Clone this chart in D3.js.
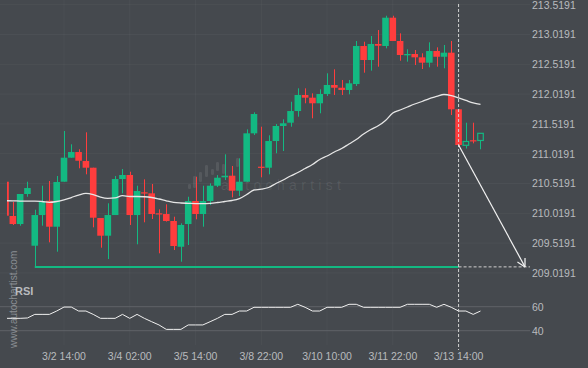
<!DOCTYPE html>
<html>
<head>
<meta charset="utf-8">
<script src="https://cdn.jsdelivr.net/npm/d3@7/dist/d3.min.js"></script>
<style>
html, body { margin: 0; padding: 0; background: #45494e; }
svg { display: block; font-family: "Liberation Sans", Arial, sans-serif; }
</style>
</head>
<body>
<div id="chart"></div>
<script>
// 4h candles
var opens  = [210.549,209.974,209.839,210.343,209.475,209.990,210.230,209.794,210.549,210.952,211.047,210.896,210.784,209.940,209.643,209.990,210.594,210.662,209.990,210.371,210.354,210.019,210.007,209.890,209.458,209.839,210.225,210.007,210.225,210.482,210.623,210.650,210.398,210.549,211.361,210.801,210.784,211.232,211.484,211.539,211.735,212.004,211.959,211.865,212.021,212.172,212.126,212.088,212.188,212.826,212.591,212.860,212.826,213.301,212.910,212.670,212.692,212.636,212.546,212.742,212.646,212.714,211.764,211.160,211.245,211.241];
var highs  = [210.560,210.209,210.343,210.549,210.079,210.482,210.561,210.645,211.400,211.177,211.093,211.378,210.784,209.940,210.187,210.645,210.762,210.717,210.482,210.589,210.511,210.086,210.170,209.962,209.851,210.297,210.633,210.482,210.522,210.660,211.009,210.813,210.942,211.428,211.714,211.472,211.328,211.517,211.596,211.891,212.116,212.116,212.032,212.100,212.368,212.435,212.256,212.256,212.910,212.898,212.994,213.094,213.334,213.334,213.039,212.771,212.759,212.704,212.888,212.804,212.843,212.910,211.764,211.539,211.539,211.361];
var lows   = [209.970,209.823,209.811,210.297,209.135,209.811,209.532,209.375,210.549,210.952,210.774,210.673,209.784,209.442,209.252,209.990,210.354,209.823,209.499,209.868,209.923,209.348,209.880,209.403,209.207,209.487,209.918,209.794,210.158,210.460,210.578,210.287,210.309,210.549,211.333,210.623,210.673,211.026,211.064,211.472,211.640,211.865,211.613,211.697,211.987,212.004,212.004,212.016,212.155,212.378,212.412,212.479,212.787,212.910,212.579,212.563,212.507,212.440,212.469,212.479,212.452,211.668,211.150,211.106,211.193,211.093];
var closes = [209.979,209.839,210.343,210.443,209.990,210.225,209.794,210.544,210.952,211.047,210.901,210.784,209.945,209.643,209.990,210.594,210.662,209.990,210.393,210.354,210.007,210.012,209.890,209.470,209.823,210.225,210.007,210.225,210.482,210.616,210.650,210.398,210.549,211.361,211.685,210.790,211.232,211.484,211.529,211.735,212.004,211.959,211.865,212.021,212.172,212.126,212.088,212.200,212.826,212.591,212.860,212.831,213.301,212.910,212.675,212.692,212.636,212.546,212.742,212.646,212.714,211.764,211.165,211.224,211.239,211.361];
var hollow = [63, 65];

// moving average (white line)
var maValues = [210.230,210.229,210.225,210.225,210.225,210.217,210.203,210.217,210.245,210.284,210.326,210.354,210.334,210.292,210.271,210.279,210.314,210.301,210.301,210.297,210.284,210.259,210.229,210.203,210.192,210.187,210.183,210.183,210.187,210.200,210.217,210.234,210.267,210.334,210.410,210.423,210.452,210.519,210.578,210.645,210.703,210.771,210.838,210.922,210.980,211.047,211.106,211.182,211.257,211.349,211.425,211.487,211.576,211.702,211.752,211.803,211.853,211.895,211.945,211.979,212.012,211.995,211.954,211.912,211.870,211.848];

// RSI
var rsiValues = [50.3,50.3,50.3,50.6,53.6,53.6,53.6,56.4,59.7,59.7,56.4,56.4,53.6,50.3,50.3,50.3,53.6,50.3,53.6,50.3,47.5,44.8,41.1,41.1,41.1,44.8,44.8,44.8,47.5,50.3,53.6,53.6,56.4,56.4,59.5,59.5,59.5,59.5,59.5,59.5,62.0,59.5,56.4,56.4,59.5,59.5,59.5,62.0,62.0,59.5,59.5,59.5,59.5,59.5,59.5,62.0,62.0,62.0,62.0,59.5,62.0,59.5,56.4,56.4,53.6,56.4];

var priceTicks = [209.0191,209.5191,210.0191,210.5191,211.0191,211.5191,212.0191,212.5191,213.0191,213.5191];
var rsiTicks = [40, 60];
var timeIdx = [8, 17, 26, 35, 44, 53, 62];
var timeLabels = ["3/2 14:00","3/4 02:00","3/5 14:00","3/8 22:00","3/10 10:00","3/11 22:00","3/13 14:00"];
var targetPrice = 209.12;
var signalIdx = 62;

var width = 588, height = 368;
var green = "#13b982", red = "#ff3d3d";

var svg = d3.select("#chart").append("svg")
    .attr("width", width)
    .attr("height", height);

svg.append("rect").attr("width", width).attr("height", height).attr("fill", "#45494e");

svg.append("defs").append("clipPath").attr("id", "plot")
  .append("rect").attr("x", 7).attr("y", 0).attr("width", 523).attr("height", 350);

var x = d3.scaleBand()
    .domain(d3.range(opens.length))
    .range([2.25, 2.25 + 7.296 * opens.length])
    .paddingInner(0.1);
var cx = function(i) { return x(i) + x.bandwidth() / 2; };

var y = d3.scaleLinear().domain([209.0191, 213.5191]).range([272.9, 4.7]);
var yr = d3.scaleLinear().domain([40, 60]).range([330.7, 306.7]);

// faint grid
svg.append("g").selectAll("line").data(priceTicks).enter().append("line")
    .attr("x1", 0).attr("x2", 530)
    .attr("y1", function(d) { return y(d); }).attr("y2", function(d) { return y(d); })
    .attr("stroke", "#ffffff").attr("stroke-opacity", 0.035);
svg.append("g").selectAll("line").data(timeIdx).enter().append("line")
    .attr("x1", cx).attr("x2", cx)
    .attr("y1", 0).attr("y2", 345)
    .attr("stroke", "#ffffff").attr("stroke-opacity", 0.035);

// rsi grid
svg.append("g").selectAll("line").data(rsiTicks).enter().append("line")
    .attr("x1", 0).attr("x2", 530)
    .attr("y1", function(d) { return yr(d); }).attr("y2", function(d) { return yr(d); })
    .attr("stroke", "#5f6368").attr("stroke-width", 1);

// watermark
var wm = svg.append("g").attr("fill", "#ffffff").attr("fill-opacity", 0.09);
[[188,184,3,5],[193,176,3,12],[199,172,3,10],[205,165,3,12],[211,169,3,6],[216,162,3,9],[222,164,3,10],[236,158,3,9]].forEach(function(b) {
    wm.append("rect").attr("x", b[0]).attr("y", b[1]).attr("width", b[2]).attr("height", b[3]).attr("rx", 1.2);
});
wm.append("text").attr("x", 221).attr("y", 190)
    .attr("font-size", 14)
    .attr("textLength", 120).attr("lengthAdjust", "spacing")
    .text("autochartist");

svg.append("text")
    .attr("transform", "translate(17,348) rotate(-90)")
    .attr("font-size", 10).attr("fill", "#8a8e93")
    .text("www.autochartist.com");

var plot = svg.append("g").attr("clip-path", "url(#plot)");

// support line
plot.append("line")
    .attr("x1", cx(4)).attr("x2", cx(signalIdx))
    .attr("y1", y(targetPrice)).attr("y2", y(targetPrice))
    .attr("stroke", green).attr("stroke-width", 2);

// candles
var idx = d3.range(opens.length);
var c = plot.append("g").selectAll("g").data(idx).enter().append("g");
c.append("line")
    .attr("x1", function(i) { return Math.round(cx(i)) + 0.5; })
    .attr("x2", function(i) { return Math.round(cx(i)) + 0.5; })
    .attr("y1", function(i) { return y(highs[i]); })
    .attr("y2", function(i) { return y(lows[i]); })
    .attr("stroke", function(i) { return closes[i] > opens[i] ? green : red; })
    .attr("stroke-width", 1);
c.append("rect")
    .attr("x", function(i) { return x(i) + (hollow.indexOf(i) >= 0 ? 0.5 : 0); })
    .attr("width", function(i) { return x.bandwidth() - (hollow.indexOf(i) >= 0 ? 1 : 0); })
    .attr("y", function(i) { return y(Math.max(opens[i], closes[i])); })
    .attr("height", function(i) { return Math.max(1.2, Math.abs(y(opens[i]) - y(closes[i]))); })
    .attr("fill", function(i) {
        if (hollow.indexOf(i) >= 0) return "#45494e";
        return closes[i] > opens[i] ? green : red;
    })
    .attr("stroke", function(i) { return hollow.indexOf(i) >= 0 ? green : "none"; })
    .attr("stroke-width", 1.2);

// moving average
plot.append("path")
    .datum(maValues)
    .attr("fill", "none")
    .attr("stroke", "#e6e6e6")
    .attr("stroke-width", 1.3)
    .attr("d", d3.line().x(function(d, i) { return cx(i); }).y(function(d) { return y(d); }).curve(d3.curveMonotoneX));

// rsi line
plot.append("path")
    .datum(rsiValues)
    .attr("fill", "none")
    .attr("stroke", "#f0f0f0")
    .attr("stroke-width", 1)
    .attr("d", d3.line().x(function(d, i) { return cx(i); }).y(function(d) { return yr(d); }));

// signal line + forecast arrow
var sx = cx(signalIdx);
svg.append("line")
    .attr("x1", sx).attr("x2", sx).attr("y1", 4).attr("y2", 350)
    .attr("stroke", "#d0d0d0").attr("stroke-width", 1).attr("stroke-dasharray", "3,2");
svg.append("line")
    .attr("x1", sx).attr("x2", 530).attr("y1", y(targetPrice)).attr("y2", y(targetPrice))
    .attr("stroke", "#d0d0d0").attr("stroke-width", 1).attr("stroke-dasharray", "3,2");

var ax0 = sx, ay0 = y(closes[signalIdx]), ax1 = 525, ay1 = y(targetPrice);
svg.append("line")
    .attr("x1", ax0).attr("y1", ay0).attr("x2", ax1).attr("y2", ay1)
    .attr("stroke", "#f2f2f2").attr("stroke-width", 1.2);
var ang = Math.atan2(ay1 - ay0, ax1 - ax0);
[0.5, -0.5].forEach(function(da) {
    svg.append("line")
        .attr("x1", ax1).attr("y1", ay1)
        .attr("x2", ax1 - 9 * Math.cos(ang + da)).attr("y2", ay1 - 9 * Math.sin(ang + da))
        .attr("stroke", "#f2f2f2").attr("stroke-width", 1.2);
});

// axes
var yAxis = svg.append("g")
    .attr("transform", "translate(532,0)")
    .call(d3.axisRight(y).tickValues(priceTicks).tickFormat(d3.format(".4f")).tickSize(0).tickPadding(0));
var rAxis = svg.append("g")
    .attr("transform", "translate(532,0)")
    .call(d3.axisRight(yr).tickValues(rsiTicks).tickSize(0).tickPadding(0));
var xAxis = svg.append("g")
    .attr("transform", "translate(0,352.6)")
    .call(d3.axisBottom(x).tickValues(timeIdx).tickFormat(function(i) { return timeLabels[timeIdx.indexOf(i)]; }).tickSize(0).tickPadding(0));

[yAxis, rAxis, xAxis].forEach(function(a) {
    a.select(".domain").remove();
    a.selectAll("text")
        .attr("fill", "#b9bbbe")
        .style("font-family", "'Liberation Sans', Arial, sans-serif")
        .style("font-size", "10.5px");
});

svg.append("text")
    .attr("x", 15).attr("y", 295)
    .attr("font-size", 11).attr("font-weight", "bold").attr("fill", "#b9bbbe")
    .text("RSI");
</script>
</body>
</html>
